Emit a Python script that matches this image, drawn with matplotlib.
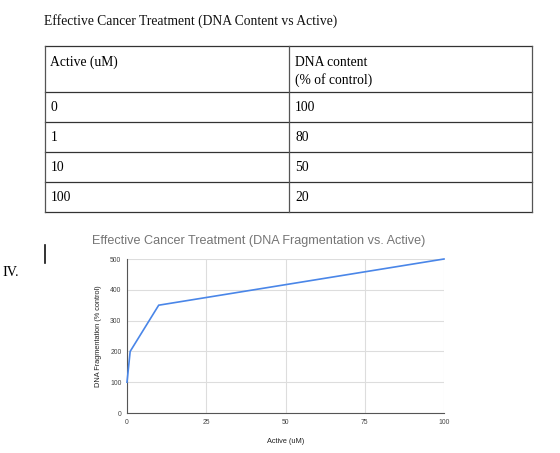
import matplotlib
matplotlib.use("Agg")
import matplotlib.pyplot as plt
from matplotlib.lines import Line2D

# ---- data ----
doc_title = "Effective Cancer Treatment (DNA Content vs Active)"
table_header = ["Active (uM)", "DNA content\n(% of control)"]
table_active = ["0", "1", "10", "100"]
table_dna_content = ["100", "80", "50", "20"]

chart_title = "Effective Cancer Treatment (DNA Fragmentation vs. Active)"
active_um = [0, 1, 10, 100]
dna_fragmentation = [100, 200, 350, 500]
x_ticks = [0, 25, 50, 75, 100]
y_ticks = [0, 100, 200, 300, 400, 500]
x_label = "Active (uM)"
y_label = "DNA Fragmentation (% control)"
section_label = "IV."

W, H = 560, 453
fig = plt.figure(figsize=(W / 100, H / 100), dpi=100)
fig.patch.set_facecolor("white")

# ---- document overlay (pixel coordinates) ----
doc = fig.add_axes([0, 0, 1, 1])
doc.set_xlim(0, W)
doc.set_ylim(H, 0)
doc.axis("off")

serif = "Liberation Serif"
doc.text(44.5, 21, doc_title, family=serif, fontsize=9.8, color="#111111",
         va="center", ha="left")

# table geometry
tl, tr, tdiv = 44.5, 531.5, 289.3
row_y = [45.7, 92.3, 122.3, 152.3, 182.3, 212.3]
lc = "#333333"
for y in row_y:
    doc.add_line(Line2D([tl, tr], [y, y], color=lc, lw=0.9))
for x in (tl, tdiv, tr):
    doc.add_line(Line2D([x, x], [row_y[0], row_y[-1]], color="#555555", lw=0.9))

fs = 9.8
doc.text(50.5, 62, table_header[0], family=serif, fontsize=fs, va="center", ha="left")
doc.text(295, 71.5, table_header[1], family=serif, fontsize=fs, va="center", ha="left",
         linespacing=1.35)
for i, (a, d) in enumerate(zip(table_active, table_dna_content)):
    yc = (row_y[i + 1] + row_y[i + 2]) / 2
    doc.text(50.5, yc, a, family=serif, fontsize=fs, va="center", ha="left")
    doc.text(295, yc, d, family=serif, fontsize=fs, va="center", ha="left")

# section label and cursor
doc.text(2, 272.5, section_label, family=serif, fontsize=10.2, va="center", ha="left")
doc.add_line(Line2D([45, 45], [245, 263], color="#111111", lw=1.2))

# chart title
doc.text(92, 241, chart_title, family="Liberation Sans", fontsize=9.1,
         color="#757575", va="center", ha="left")

# ---- chart ----
x0, x1, ytop, ybot = 127, 444, 259, 413
ax = fig.add_axes([x0 / W, 1 - ybot / H, (x1 - x0) / W, (ybot - ytop) / H])
ax.plot(active_um, dna_fragmentation, color="#4a86e8", lw=1.2, solid_joinstyle="miter",
        zorder=3, clip_on=False)
ax.set_xlim(0, 100)
ax.set_ylim(0, 500)
ax.set_xticks(x_ticks)
ax.set_yticks(y_ticks)
ax.grid(True, color="#dddddd", lw=0.8)
ax.set_axisbelow(True)
for s in ("top", "right"):
    ax.spines[s].set_visible(False)
ax.spines["left"].set_color("#555555")
ax.spines["bottom"].set_color("#555555")
ax.spines["left"].set_linewidth(0.8)
ax.spines["bottom"].set_linewidth(0.8)
ax.tick_params(length=0, labelsize=4.9, labelcolor="#444444", pad=4)
for lab in ax.get_xticklabels() + ax.get_yticklabels():
    lab.set_family("Liberation Sans")
ax.set_xlabel(x_label, family="Liberation Sans", fontsize=5.3, color="#222222", labelpad=9)
ax.set_ylabel(y_label, family="Liberation Sans", fontsize=5.3, color="#222222", labelpad=6)

fig.savefig("out.png", dpi=100, facecolor="white")
